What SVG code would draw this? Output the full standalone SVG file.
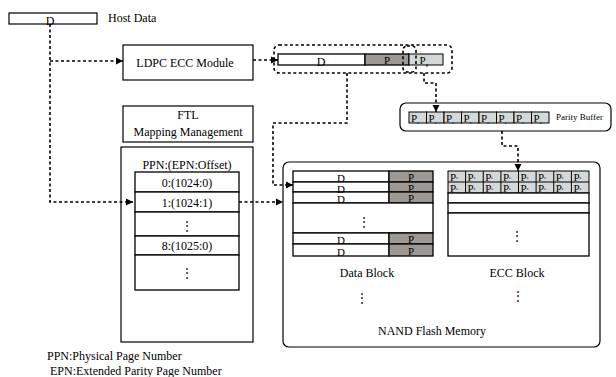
<svg xmlns="http://www.w3.org/2000/svg" width="616" height="377" viewBox="0 0 616 377" font-family="Liberation Serif, Times New Roman, serif">
<defs>
<marker id="ah" markerWidth="8" markerHeight="8" refX="7" refY="4" orient="auto" markerUnits="userSpaceOnUse">
<path d="M0,0.5 L7,4 L0,7.5 Z" fill="#000"/>
</marker>
<style>
.t12{font-size:12px;font-family:'Liberation Serif',serif}
.t11{font-size:11px;font-family:'Liberation Serif',serif}
.t9{font-size:9px;font-family:'Liberation Serif',serif}
.box{fill:#fff;stroke:#000;stroke-width:1.2}
.cell{fill:#fff;stroke:#000;stroke-width:1.3}
.dk{fill:#9c9894;stroke:#000;stroke-width:1.3}
.lt{fill:#d4d8d8;stroke:#000;stroke-width:1}
.conn{fill:none;stroke:#000;stroke-width:1.6;stroke-dasharray:3 2.5}
.dsh{fill:none;stroke:#000;stroke-width:1.6;stroke-dasharray:3 2.5}
.el{font-family:'DejaVu Serif',serif;font-size:12px;fill:#000}
</style>
</defs>
<rect width="616" height="377" fill="#fff"/>

<g id="host-data">
<rect class="box" x="9" y="13" width="88" height="11"/>
<text class="t12" x="50" y="25" text-anchor="middle">D</text>
<text class="t12" x="108" y="22">Host Data</text>
</g>

<g id="ldpc">
<rect class="box" x="123" y="45" width="130" height="35"/>
<text class="t12" x="185" y="67" text-anchor="middle">LDPC ECC Module</text>
</g>

<g id="ftl">
<rect class="box" x="123" y="106" width="130" height="36"/>
<text class="t12" x="188" y="119" text-anchor="middle">FTL</text>
<text class="t12" x="188" y="136" text-anchor="middle">Mapping Management</text>
</g>

<g id="mapping-table">
<rect class="box" x="121" y="147" width="132" height="195"/>
<text class="t12" x="187" y="169" text-anchor="middle">PPN:(EPN:Offset)</text>
<rect class="cell" x="135" y="172" width="104" height="20"/>
<rect class="cell" x="135" y="192" width="104" height="20"/>
<rect class="cell" x="135" y="212" width="104" height="24"/>
<rect class="cell" x="135" y="236" width="104" height="19"/>
<rect class="cell" x="135" y="255" width="104" height="35"/>
<text class="t12" x="187" y="187" text-anchor="middle">0:(1024:0)</text>
<text class="t12" x="187" y="207" text-anchor="middle">1:(1024:1)</text>
<text class="el" x="187" y="230" text-anchor="middle">⋮</text>
<text class="t12" x="187" y="250" text-anchor="middle">8:(1025:0)</text>
<text class="el" x="187" y="277" text-anchor="middle">⋮</text>
</g>

<g id="codeword">
<rect class="cell" x="278" y="54" width="87" height="11"/>
<rect class="dk" x="365" y="54" width="44" height="11"/>
<rect class="lt" x="409" y="54" width="34" height="11" stroke-width="1.3"/>
<text class="t12" x="321" y="66" text-anchor="middle">D</text>
<text class="t11" x="387" y="64" text-anchor="middle">P</text>
<text class="t11" x="424" y="64" text-anchor="middle">P<tspan font-size="6" dy="3">e</tspan></text>
<rect class="dsh" x="274" y="45" width="178" height="28" rx="5"/>
<rect class="dsh" x="403" y="46" width="13" height="26" rx="4"/>
</g>

<g id="parity-buffer">
<rect class="box" x="400" y="103" width="211" height="28" rx="6"/>
<g>
<rect class="lt" x="409" y="112" width="17.5" height="11"/>
<rect class="lt" x="426.5" y="112" width="17.5" height="11"/>
<rect class="lt" x="444" y="112" width="17.5" height="11"/>
<rect class="lt" x="461.5" y="112" width="17.5" height="11"/>
<rect class="lt" x="479" y="112" width="17.5" height="11"/>
<rect class="lt" x="496.5" y="112" width="17.5" height="11"/>
<rect class="lt" x="514" y="112" width="17.5" height="11"/>
<rect class="lt" x="531.5" y="112" width="17.5" height="11"/>
</g>
<g class="t11">
<text x="411" y="122">P<tspan font-size="5" dy="2">e</tspan></text>
<text x="428.5" y="122">P<tspan font-size="5" dy="2">e</tspan></text>
<text x="446" y="122">P<tspan font-size="5" dy="2">e</tspan></text>
<text x="463.5" y="122">P<tspan font-size="5" dy="2">e</tspan></text>
<text x="481" y="122">P<tspan font-size="5" dy="2">e</tspan></text>
<text x="498.5" y="122">P<tspan font-size="5" dy="2">e</tspan></text>
<text x="516" y="122">P<tspan font-size="5" dy="2">e</tspan></text>
<text x="533.5" y="122">P<tspan font-size="5" dy="2">e</tspan></text>
</g>
<text class="t9" x="556" y="120">Parity Buffer</text>
</g>

<g id="nand">
<rect class="box" x="283" y="162" width="317" height="185" rx="6"/>
<text class="t12" x="432" y="335" text-anchor="middle">NAND Flash Memory</text>
</g>

<g id="data-block">
<rect class="cell" x="293" y="171" width="96" height="11"/>
<rect class="dk" x="389" y="171" width="44" height="11"/>
<rect class="cell" x="293" y="182" width="96" height="10"/>
<rect class="dk" x="389" y="182" width="44" height="10"/>
<rect class="cell" x="293" y="192" width="96" height="11"/>
<rect class="dk" x="389" y="192" width="44" height="11"/>
<rect class="cell" x="293" y="203" width="140" height="30"/>
<rect class="cell" x="293" y="233" width="96" height="11"/>
<rect class="dk" x="389" y="233" width="44" height="11"/>
<rect class="cell" x="293" y="244" width="96" height="12"/>
<rect class="dk" x="389" y="244" width="44" height="12"/>
<g class="t11" text-anchor="middle">
<text x="341" y="182">D</text><text x="411" y="181">P</text>
<text x="341" y="192.5">D</text><text x="411" y="191.5">P</text>
<text x="341" y="203">D</text><text x="411" y="202">P</text>
<text x="341" y="244">D</text><text x="411" y="243">P</text>
<text x="341" y="256">D</text><text x="411" y="255">P</text>
</g>
<text class="el" x="364" y="226" text-anchor="middle">⋮</text>
<text class="t12" x="367" y="277" text-anchor="middle">Data Block</text>
<text class="el" x="362" y="302" text-anchor="middle" font-size="13">⋮</text>
</g>

<g id="ecc-block">
<rect class="lt" x="448" y="171" width="141" height="22" stroke-width="1.3"/>
<rect class="cell" x="448" y="193" width="141" height="10"/>
<rect class="cell" x="448" y="203" width="141" height="10"/>
<rect class="cell" x="448" y="213" width="141" height="43"/>
<g stroke="#000" stroke-width="1">
<line x1="448" y1="182" x2="589" y2="182"/>
<line x1="465.6" y1="171" x2="465.6" y2="193"/>
<line x1="483.25" y1="171" x2="483.25" y2="193"/>
<line x1="500.9" y1="171" x2="500.9" y2="193"/>
<line x1="518.5" y1="171" x2="518.5" y2="193"/>
<line x1="536.1" y1="171" x2="536.1" y2="193"/>
<line x1="553.75" y1="171" x2="553.75" y2="193"/>
<line x1="571.4" y1="171" x2="571.4" y2="193"/>
</g>
<g class="t11">
<text x="450" y="181">P<tspan font-size="5" dy="-2">e</tspan></text>
<text x="467.6" y="181">P<tspan font-size="5" dy="-2">e</tspan></text>
<text x="485.2" y="181">P<tspan font-size="5" dy="-2">e</tspan></text>
<text x="502.9" y="181">P<tspan font-size="5" dy="-2">e</tspan></text>
<text x="520.5" y="181">P<tspan font-size="5" dy="-2">e</tspan></text>
<text x="538.1" y="181">P<tspan font-size="5" dy="-2">e</tspan></text>
<text x="555.7" y="181">P<tspan font-size="5" dy="-2">e</tspan></text>
<text x="573.4" y="181">P<tspan font-size="5" dy="-2">e</tspan></text>
<text x="450" y="192">P<tspan font-size="5" dy="-2">e</tspan></text>
<text x="467.6" y="192">P<tspan font-size="5" dy="-2">e</tspan></text>
<text x="485.2" y="192">P<tspan font-size="5" dy="-2">e</tspan></text>
<text x="502.9" y="192">P<tspan font-size="5" dy="-2">e</tspan></text>
<text x="520.5" y="192">P<tspan font-size="5" dy="-2">e</tspan></text>
<text x="538.1" y="192">P<tspan font-size="5" dy="-2">e</tspan></text>
<text x="555.7" y="192">P<tspan font-size="5" dy="-2">e</tspan></text>
<text x="573.4" y="192">P<tspan font-size="5" dy="-2">e</tspan></text>
</g>
<text class="el" x="517" y="240" text-anchor="middle">⋮</text>
<text class="t12" x="517" y="277" text-anchor="middle">ECC Block</text>
<text class="el" x="518" y="300" text-anchor="middle" font-size="13">⋮</text>
</g>

<g id="connectors">
<path class="conn" d="M50,24 V202 H133" marker-end="url(#ah)"/>
<path class="conn" d="M50,61 H123" marker-end="url(#ah)"/>
<path class="conn" d="M253,60 H278" marker-end="url(#ah)"/>
<path class="conn" d="M347,73 V123 H273 V185 H293" marker-end="url(#ah)"/>
<path class="conn" d="M239,202 H283" marker-end="url(#ah)"/>
<path class="conn" d="M424,73 V83 H436 V112" marker-end="url(#ah)"/>
<path class="conn" d="M502,131 V146 H518 V171" marker-end="url(#ah)"/>
</g>

<g id="legend">
<text class="t12" x="47" y="360">PPN:Physical Page Number</text>
<text class="t12" x="50" y="375">EPN:Extended Parity Page Number</text>
</g>
</svg>
